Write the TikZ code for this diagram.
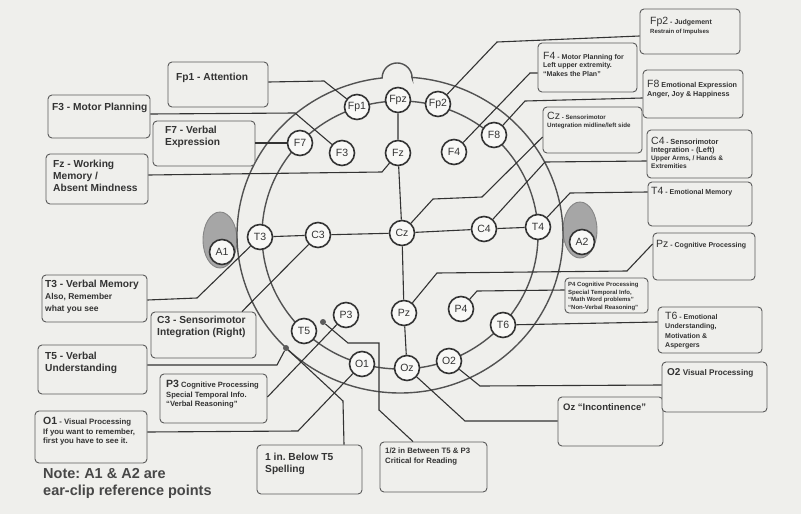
\documentclass[tikz,border=0pt]{standalone}
\usepackage{fontspec}
\setmainfont{Liberation Sans}
\usetikzlibrary{fit}
\definecolor{paper}{HTML}{EFEFEC}
\definecolor{ink}{HTML}{333333}
\definecolor{boxline}{HTML}{5A5A5A}
\definecolor{eargray}{HTML}{A6A6A6}
\newcommand\hdx[1]{{\mdseries\fontsize{10.5}{12}\selectfont #1}}
\frenchspacing
\begin{document}
\begin{tikzpicture}[x=1pt,y=-1pt,
  box/.style={draw=boxline, line width=0.9pt, rounded corners=4pt, fill=paper, inner sep=0pt},
  txt/.style={anchor=north west, align=left, inner sep=0pt, text=ink, font=\bfseries\fontsize{10.2}{11.8}\selectfont},
  el/.style={circle, draw=ink, line width=1.6pt, fill=white!55!paper, minimum size=25pt, inner sep=0pt, text=ink, font=\fontsize{10.5}{11}\selectfont},
  conn/.style={draw=ink, line width=1.1pt},
  head/.style={draw=ink!85, line width=1.4pt},
  dotm/.style={circle, fill=ink!80, minimum size=6pt, inner sep=0pt}]
\fill[paper] (0,0) rectangle (801,514);
\useasboundingbox (0,0) rectangle (801,514);

% ear clips
\filldraw[fill=eargray, draw=ink!60, line width=0.9pt] (220,240) ellipse [x radius=17, y radius=28];
\filldraw[fill=eargray, draw=ink!60, line width=0.9pt] (580,230) ellipse [x radius=17, y radius=28];

% head outline with nose bump
\draw[head] (400,235) ++(-85.8:163 and 158) arc[start angle=-85.8, end angle=263.7, x radius=163, y radius=158]
  arc[start angle=180, end angle=360, radius=15] -- cycle;
% inner circle
\draw[head] (400,235) ellipse [x radius=138, y radius=134];

% electrodes
\node[el] (Fp1) at (357,107) {Fp1};
\node[el] (Fpz) at (398,100) {Fpz};
\node[el] (Fp2) at (438,104) {Fp2};
\node[el] (F7) at (300,143) {F7};
\node[el] (F3) at (342,153) {F3};
\node[el] (Fz) at (398,153) {Fz};
\node[el] (F4) at (454,152) {F4};
\node[el] (F8) at (494,135) {F8};
\node[el] (T3) at (260,237) {T3};
\node[el] (C3) at (318,235) {C3};
\node[el] (Cz) at (402,233) {Cz};
\node[el] (C4) at (484,229) {C4};
\node[el] (T4) at (538,227) {T4};
\node[el] (T5) at (304,331) {T5};
\node[el] (P3) at (346,315) {P3};
\node[el] (Pz) at (404,313) {Pz};
\node[el] (P4) at (461,309) {P4};
\node[el] (T6) at (503,325) {T6};
\node[el] (O1) at (362,364) {O1};
\node[el] (Oz) at (407,368) {Oz};
\node[el] (O2) at (449,361) {O2};
\node[el] (A1) at (222,252) {A1};
\node[el] (A2) at (582,242) {A2};
\node[dotm] (d1) at (286,348) {};
\node[dotm] (d2) at (323,322) {};

% midlines
\draw[conn] (Fpz) -- (Fz) -- (Cz) -- (Pz) -- (Oz);
\draw[conn] (T3) -- (C3) -- (Cz) -- (C4) -- (T4);

% boxes
\node[box, fit={(168,62) (268,107)}] (bFp1) {};
\node[box, fit={(48,95) (150,138)}] (bF3) {};
\node[box, fit={(153,121) (255,166)}] (bF7) {};
\node[box, fit={(46,154) (148,204)}] (bFz) {};
\node[box, fit={(42,275) (147,322)}] (bT3) {};
\node[box, fit={(151,312) (256,358)}] (bC3) {};
\node[box, fit={(38,345) (147,394)}] (bT5) {};
\node[box, fit={(160,374) (267,423)}] (bP3) {};
\node[box, fit={(35,411) (147,463)}] (bO1) {};
\node[box, fit={(257,445) (362,494)}] (b1in) {};
\node[box, fit={(380,442) (487,492)}] (bHalf) {};
\node[box, fit={(558,397) (663,446)}] (bOz) {};
\node[box, fit={(662,362) (767,412)}] (bO2) {};
\node[box, fit={(658,307) (762,353)}] (bT6) {};
\node[box, fit={(565,278) (648,313)}] (bP4) {};
\node[box, fit={(653,233) (755,280)}] (bPz) {};
\node[box, fit={(648,182) (752,226)}] (bT4) {};
\node[box, fit={(647,130) (752,178)}] (bC4) {};
\node[box, fit={(543,107) (642,153)}] (bCz) {};
\node[box, fit={(643,70) (743,118)}] (bF8) {};
\node[box, fit={(538,43) (637,92)}] (bF4) {};
\node[box, fit={(640,9) (740,54)}] (bFp2) {};

% box texts
\node[txt] (tFp1) at (176,73) {Fp1 - Attention};
\node[txt] (tF3) at (52,103) {F3 - Motor Planning};
\node[txt] (tF7) at (165,126) {F7 - Verbal\\Expression};
\node[txt] (tFz) at (53,160) {Fz - Working\\Memory /\\Absent Mindness};
\node[txt] (tT3) at (45,280) {T3 - Verbal Memory\\{\fontsize{8.5}{10}\selectfont Also, Remember}\\{\fontsize{8.5}{10}\selectfont what you see}};
\node[txt] (tC3) at (157,316) {C3 - Sensorimotor\\Integration (Right)};
\node[txt] (tT5) at (45,352) {T5 - Verbal\\Understanding};
\node[txt, font=\bfseries\fontsize{7.6}{9.5}\selectfont] (tP3) at (166,380) {\hdx{\bfseries P3} Cognitive Processing\\Special Temporal Info.\\“Verbal Reasoning”};
\node[txt, font=\bfseries\fontsize{7.8}{9.5}\selectfont] (tO1) at (43,417) {{\fontsize{10.5}{12}\selectfont O1} - Visual Processing\\If you want to remember,\\first you have to see it.};
\node[txt] (t1in) at (265,453) {1 in. Below T5\\Spelling};
\node[txt, font=\bfseries\fontsize{7.8}{9.5}\selectfont] (tHalf) at (385,448) {1/2 in Between T5 \& P3\\Critical for Reading};
\node[txt, font=\bfseries\fontsize{9.5}{11}\selectfont] (tOz) at (563,403) {Oz “Incontinence”};
\node[txt, font=\bfseries\fontsize{8.2}{10}\selectfont] (tO2) at (667,368) {{\fontsize{10}{11}\selectfont O2} Visual Processing};
\node[txt, font=\bfseries\fontsize{7}{9.3}\selectfont] (tT6) at (665,312) {\hdx{T6} - Emotional\\Understanding,\\Motivation \&\\Aspergers};
\node[txt, font=\bfseries\fontsize{6}{7.6}\selectfont] (tP4) at (568,282) {P4 Cognitive Processing\\Special Temporal Info,\\“Math Word problems”\\“Non-Verbal Reasoning”};
\node[txt, font=\bfseries\fontsize{7}{8.5}\selectfont] (tPz) at (656,240) {\hdx{Pz} - Cognitive Processing};
\node[txt, font=\bfseries\fontsize{7}{8.5}\selectfont] (tT4) at (651,187) {\hdx{T4} - Emotional Memory};
\node[txt, font=\bfseries\fontsize{6.6}{8}\selectfont] (tC4) at (651,137) {\hdx{C4} - {\fontsize{7.4}{8}\selectfont Sensorimotor}\\{\fontsize{7.4}{8}\selectfont Integration - (Left)}\\Upper Arms, / Hands \&\\Extremities};
\node[txt, font=\bfseries\fontsize{6.2}{7.5}\selectfont] (tCz) at (547,112) {\hdx{Cz} - Sensorimotor\\Untegration midline/left side};
\node[txt, font=\bfseries\fontsize{7.2}{8.8}\selectfont] (tF8) at (647,80) {\hdx{F8} Emotional Expression\\Anger, Joy \& Happiness};
\node[txt, font=\bfseries\fontsize{7}{8.5}\selectfont] (tF4) at (543,52) {\hdx{F4} - Motor Planning for\\Left upper extremity.\\“Makes the Plan”};
\node[txt, font=\bfseries\fontsize{7}{8.5}\selectfont] (tFp2) at (650,17) {\hdx{Fp2} - Judgement\\{\fontsize{6}{7}\selectfont Restrain of Impulses}};
\node[txt, font=\bfseries\fontsize{14.5}{17.5}\selectfont, text=ink!90] (note) at (43,468) {Note: A1 \& A2 are\\ear-clip reference points};

% connectors
\draw[conn] (bFp1.east |- 0,82) -- (324,81) -- (Fp1);
\draw[conn] (bF3.east |- 0,114) -- (295,113) -- (F3);
\draw[conn] (bF7.east |- 0,143) -- (F7);
\draw[conn] (bFz.east |- 0,175) -- (382,172) -- (Fz);
\draw[conn] (bT3.east |- 0,300) -- (197,298) -- (T3);
\draw[conn] (C3) -- (bC3.north -| 242,0);
\draw[conn] (bT5.east |- 0,365) -- (277,365) -- (d1);
\draw[conn] (P3) -- (bP3.east |- 0,397);
\draw[conn] (O1) -- (298,431) -- (bO1.east |- 0,432);
\draw[conn] (d1) -- (343,401) -- (b1in.north -| 344,0);
\draw[conn] (d2) -- (348,343) -- (379,343) -- (379,410) -- (bHalf.north -| 413,0);
\draw[conn] (Oz) -- (465,421) -- (bOz.west |- 0,421);
\draw[conn] (O2) -- (480,386) -- (bO2.west |- 0,385);
\draw[conn] (T6) -- (bT6.west |- 0,322);
\draw[conn] (P4) -- (477,291) -- (bP4.west |- 0,290);
\draw[conn] (Pz) -- (437,273) -- (627,271) -- (bPz.west |- 0,244);
\draw[conn] (T4) -- (570,193) -- (bT4.west |- 0,192);
\draw[conn] (C4) -- (545,162) -- (bC4.west |- 0,161);
\draw[conn] (Cz) -- (433,199) -- (482,197) -- (bCz.west |- 0,137);
\draw[conn] (F8) -- (525,101) -- (bF8.west |- 0,98);
\draw[conn] (F4) -- (530,73) -- (bF4.west |- 0,73);
\draw[conn] (Fp2) -- (497,42) -- (bFp2.west |- 0,36);
\end{tikzpicture}
\end{document}
